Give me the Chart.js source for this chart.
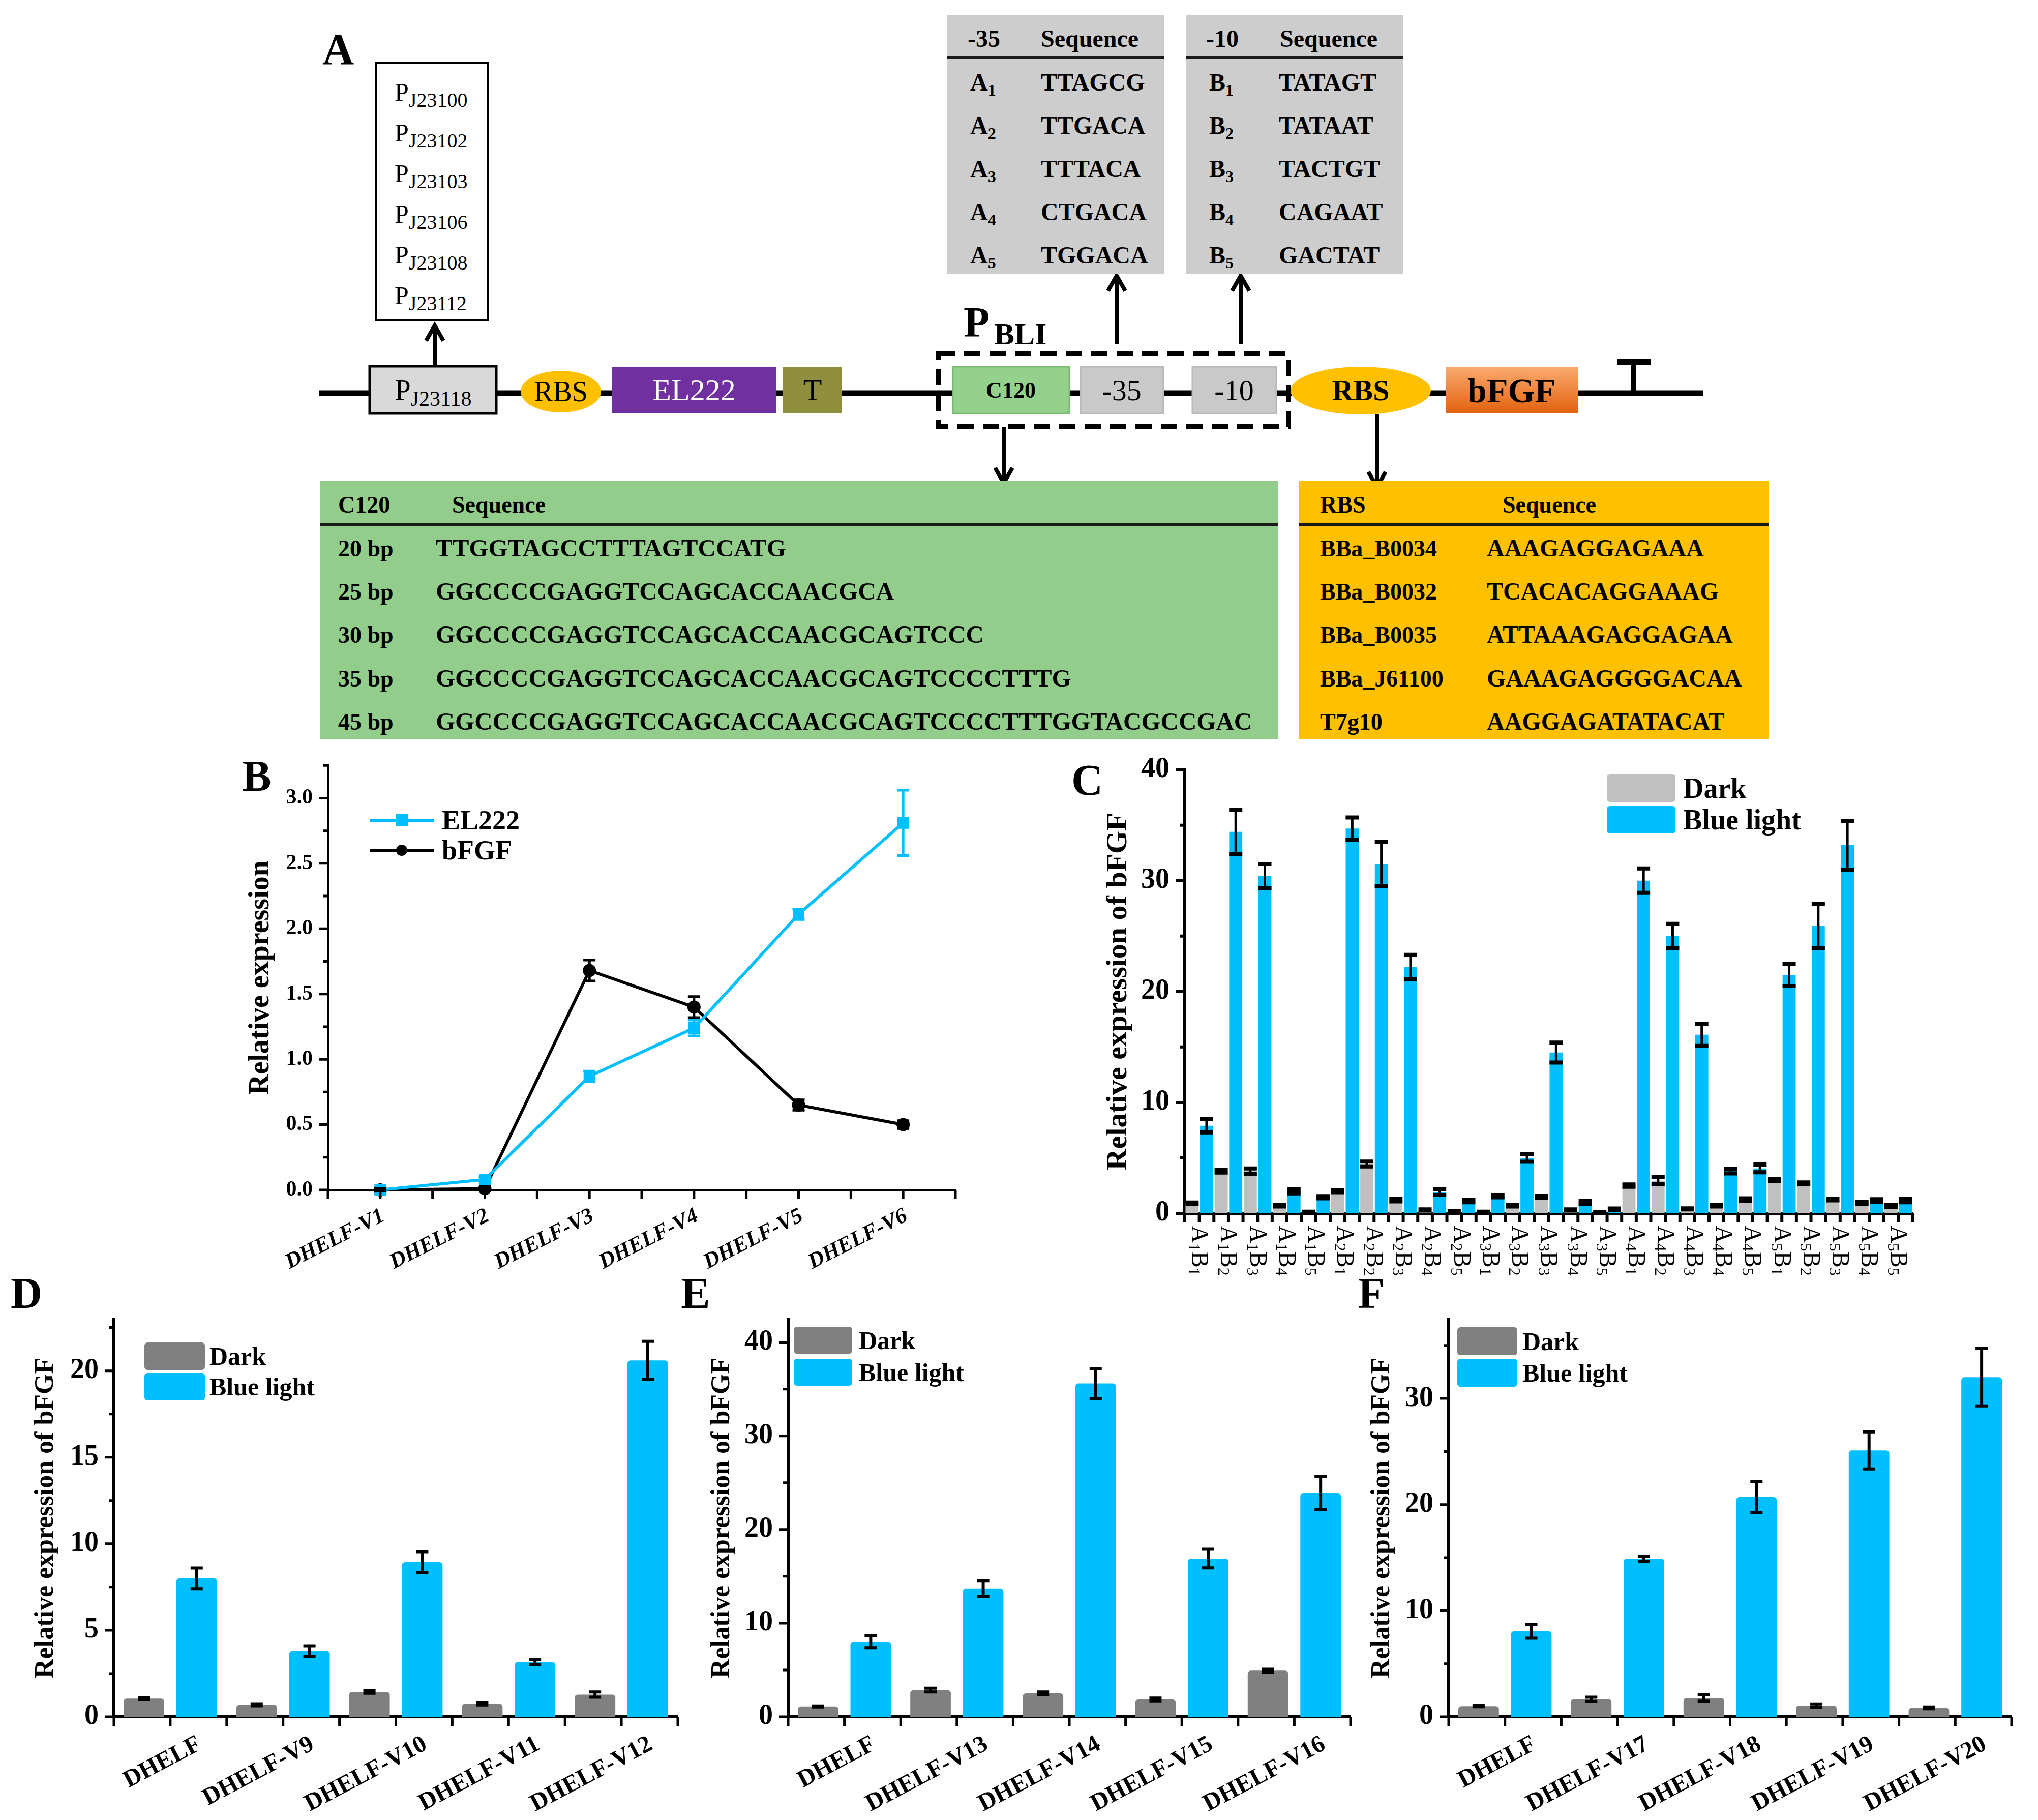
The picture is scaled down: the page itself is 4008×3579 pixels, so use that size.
<!DOCTYPE html>
<html>
<head>
<meta charset="utf-8">
<title>EL222 / bFGF expression</title>
<script src="https://cdn.jsdelivr.net/npm/chart.js@4.4.1/dist/chart.umd.min.js"></script>
<style>
  html, body { margin: 0; background: #fff; }
  #page { position: relative; width: 4008px; height: 3579px; overflow: hidden;
          font-family: 'Liberation Serif', 'Times New Roman', serif; color: #000; }
  #page canvas { position: absolute; }
  #diagram { position: absolute; left: 0; top: 0; }
  .panel { position: absolute; font-size: 86px; font-weight: bold; line-height: 1; transform: translate(-50%, -50%); }
  .swatch { position: absolute; border-radius: 6px; }
  .legtext { position: absolute; font-weight: bold; line-height: 1; transform: translateY(-50%); white-space: nowrap; }
</style>
</head>
<body>
<div id="page">
  <svg id="diagram" width="4008" height="1480" font-family="'Liberation Serif', 'Times New Roman', serif"></svg>
  <canvas id="chartB"></canvas>
  <canvas id="chartC"></canvas>
  <canvas id="chartD"></canvas>
  <canvas id="chartE"></canvas>
  <canvas id="chartF"></canvas>
</div>
<script>
const FONT = "'Liberation Serif', 'Times New Roman', serif";
const BLUE = '#00bfff';

// ---------- panel A (construct diagram) ----------
const promoters = ['J23100', 'J23102', 'J23103', 'J23106', 'J23108', 'J23112'];
const minus35Seqs = ['TTAGCG', 'TTGACA', 'TTTACA', 'CTGACA', 'TGGACA'];
const minus10Seqs = ['TATAGT', 'TATAAT', 'TACTGT', 'CAGAAT', 'GACTAT'];
const c120Names = ['20 bp', '25 bp', '30 bp', '35 bp', '45 bp'];
const c120Seqs = [
  'TTGGTAGCCTTTAGTCCATG',
  'GGCCCCGAGGTCCAGCACCAACGCA',
  'GGCCCCGAGGTCCAGCACCAACGCAGTCCC',
  'GGCCCCGAGGTCCAGCACCAACGCAGTCCCCTTTG',
  'GGCCCCGAGGTCCAGCACCAACGCAGTCCCCTTTGGTACGCCGAC'
];
const rbsNames = ['BBa_B0034', 'BBa_B0032', 'BBa_B0035', 'BBa_J61100', 'T7g10'];
const rbsSeqs = ['AAAGAGGAGAAA', 'TCACACAGGAAAG', 'ATTAAAGAGGAGAA', 'GAAAGAGGGGACAA', 'AAGGAGATATACAT'];

// ---------- panel B ----------
const strainsB = ['DHELF-V1', 'DHELF-V2', 'DHELF-V3', 'DHELF-V4', 'DHELF-V5', 'DHELF-V6'];
const el222Mean = [0.00, 0.08, 0.87, 1.24, 2.11, 2.81];
const el222Sd = [0.01, 0.02, 0.04, 0.06, 0.04, 0.25];
const bfgfMean = [0.00, 0.01, 1.68, 1.40, 0.65, 0.50];
const bfgfSd = [0.01, 0.01, 0.08, 0.08, 0.04, 0.03];
const yTicksB = [0, 0.5, 1.0, 1.5, 2.0, 2.5, 3.0];

// ---------- panel C ----------
const combosC = ['A1B1', 'A1B2', 'A1B3', 'A1B4', 'A1B5',
                 'A2B1', 'A2B2', 'A2B3', 'A2B4', 'A2B5',
                 'A3B1', 'A3B2', 'A3B3', 'A3B4', 'A3B5',
                 'A4B1', 'A4B2', 'A4B3', 'A4B4', 'A4B5',
                 'A5B1', 'A5B2', 'A5B3', 'A5B4', 'A5B5'];
const darkC = [0.9, 3.8, 3.8, 0.7, 0.1, 2.0, 4.45, 1.2, 0.3, 0.15, 0.1, 0.7, 1.5, 0.3, 0.08,
               2.5, 2.95, 0.4, 0.7, 1.25, 3.0, 2.7, 1.25, 0.93, 0.66];
const darkSdC = [0.08, 0.12, 0.25, 0.08, 0.05, 0.1, 0.22, 0.12, 0.05, 0.05, 0.05, 0.08, 0.1, 0.05, 0.04,
                 0.1, 0.3, 0.05, 0.08, 0.1, 0.08, 0.08, 0.08, 0.08, 0.08];
const blueC = [7.9, 34.4, 30.4, 2.0, 1.45, 34.7, 31.5, 22.2, 1.9, 1.1, 1.55, 5.0, 14.5, 1.0, 0.35,
               30.0, 25.0, 16.1, 3.8, 4.05, 21.5, 25.9, 33.2, 1.15, 1.15];
const blueSdC = [0.6, 2.0, 1.1, 0.2, 0.1, 1.0, 2.0, 1.1, 0.25, 0.1, 0.1, 0.35, 0.9, 0.15, 0.08,
                 1.1, 1.1, 1.0, 0.2, 0.35, 1.0, 2.0, 2.2, 0.12, 0.15];
const yTicksC = [0, 10, 20, 30, 40];

// ---------- panels D, E, F ----------
const strainsD = ['DHELF', 'DHELF-V9', 'DHELF-V10', 'DHELF-V11', 'DHELF-V12'];
const darkD = [1.05, 0.69, 1.44, 0.75, 1.28];
const darkSdD = [0.05, 0.06, 0.08, 0.07, 0.15];
const blueD = [8.0, 3.8, 8.94, 3.16, 20.6];
const blueSdD = [0.6, 0.3, 0.6, 0.15, 1.1];
const yTicksD = [0, 5, 10, 15, 20];

const strainsE = ['DHELF', 'DHELF-V13', 'DHELF-V14', 'DHELF-V15', 'DHELF-V16'];
const darkE = [1.1, 2.85, 2.5, 1.85, 4.93];
const darkSdE = [0.05, 0.2, 0.15, 0.15, 0.15];
const blueE = [8.03, 13.7, 35.6, 16.9, 23.9];
const blueSdE = [0.65, 0.85, 1.6, 1.0, 1.75];
const yTicksE = [0, 10, 20, 30, 40];

const strainsF = ['DHELF', 'DHELF-V17', 'DHELF-V18', 'DHELF-V19', 'DHELF-V20'];
const darkF = [1.0, 1.65, 1.77, 1.06, 0.84];
const darkSdF = [0.05, 0.2, 0.3, 0.15, 0.08];
const blueF = [8.06, 14.9, 20.7, 25.1, 32.0];
const blueSdF = [0.65, 0.25, 1.45, 1.75, 2.7];
const yTicksF = [0, 10, 20, 30];

// ================= diagram =================
function buildDiagram() {
  const p = [];
  const B = 'font-weight="bold"';
  const txt = (x, y, content, size, extra) =>
    p.push(`<text x="${x}" y="${y}" font-size="${size}" ${extra || ''}>${content}</text>`);
  const sub = (s, size, dy) => `<tspan font-size="${size}" dy="${dy}">${s}</tspan>`;
  const arrow = (x, y1, y2) => {
    const d = y2 < y1 ? 1 : -1;
    p.push(`<line x1="${x}" y1="${y1}" x2="${x}" y2="${y2 + d * 4}" stroke="#000" stroke-width="8"/>`);
    p.push(`<polyline points="${x - 17},${y2 + d * 30} ${x},${y2} ${x + 17},${y2 + d * 30}" fill="none" stroke="#000" stroke-width="8"/>`);
  };

  p.push(`<defs><linearGradient id="orange" x1="0" y1="0" x2="0" y2="1">
    <stop offset="0" stop-color="#fbab70"/><stop offset="1" stop-color="#e2620f"/></linearGradient></defs>`);

  // promoter library box
  p.push('<rect x="740" y="123" width="220" height="507" fill="#fff" stroke="#000" stroke-width="4"/>');
  promoters.forEach((name, i) => {
    txt(776, 198 + i * 80, 'P' + sub(name, 40, 12), 50);
  });
  arrow(855, 718, 640);

  // backbone
  p.push('<line x1="628" y1="773" x2="3350" y2="773" stroke="#000" stroke-width="11"/>');

  // EL222 cassette
  p.push('<rect x="727" y="720" width="249" height="93" fill="#d9d9d9" stroke="#000" stroke-width="5"/>');
  txt(852, 786, 'P' + sub('J23118', 42, 12), 56, 'text-anchor="middle"');
  p.push('<ellipse cx="1103" cy="770" rx="79" ry="41" fill="#ffc000"/>');
  txt(1103, 789, 'RBS', 56, 'text-anchor="middle"');
  p.push('<rect x="1203" y="721" width="324" height="91" fill="#7030a0"/>');
  txt(1365, 787, 'EL222', 60, 'text-anchor="middle" fill="#fff"');
  p.push('<rect x="1540" y="721" width="116" height="91" fill="#8f8f3d"/>');
  txt(1598, 787, 'T', 60, 'text-anchor="middle"');

  // P_BLI promoter
  p.push('<rect x="1846" y="696" width="688" height="143" fill="none" stroke="#000" stroke-width="10" stroke-dasharray="32 18"/>');
  p.push('<rect x="1874" y="721" width="229" height="92" fill="#93d18d" stroke="#78bd73" stroke-width="3"/>');
  txt(1988, 782, 'C120', 44, 'text-anchor="middle" ' + B);
  p.push('<rect x="2125" y="721" width="163" height="92" fill="#c9c9c9" stroke="#b8b8b8" stroke-width="3"/>');
  txt(2206, 787, '-35', 58, 'text-anchor="middle"');
  p.push('<rect x="2345" y="721" width="165" height="92" fill="#c9c9c9" stroke="#b8b8b8" stroke-width="3"/>');
  txt(2427, 787, '-10', 58, 'text-anchor="middle"');
  txt(1895, 662, 'P', 84, B);
  txt(1955, 677, 'BLI', 60, B);

  // bFGF cassette
  p.push('<ellipse cx="2676" cy="768" rx="138" ry="47" fill="#ffc000"/>');
  txt(2676, 787, 'RBS', 58, 'text-anchor="middle" ' + B);
  p.push('<rect x="2843" y="721" width="260" height="91" fill="url(#orange)"/>');
  txt(2973, 791, 'bFGF', 68, 'text-anchor="middle" ' + B);
  p.push('<line x1="3212" y1="712" x2="3212" y2="773" stroke="#000" stroke-width="10"/>');
  p.push('<line x1="3180" y1="712" x2="3246" y2="712" stroke="#000" stroke-width="12"/>');

  arrow(2196, 676, 542);
  arrow(2440, 676, 542);
  arrow(1974, 839, 950);
  arrow(2708, 815, 958);

  // -35 and -10 tables
  const rowsTop = [162, 247, 332, 417, 502];
  p.push('<rect x="1863" y="29" width="427" height="509" fill="#cdcdcd"/>');
  p.push('<rect x="1863" y="111" width="427" height="5" fill="#1a1a1a"/>');
  p.push('<rect x="2333" y="29" width="426" height="509" fill="#cdcdcd"/>');
  p.push('<rect x="2333" y="111" width="426" height="5" fill="#1a1a1a"/>');
  txt(1903, 92, '-35', 48, B);
  txt(2047, 92, 'Sequence', 48, B);
  txt(2372, 92, '-10', 48, B);
  txt(2517, 92, 'Sequence', 48, B);
  minus35Seqs.forEach((sq, i) => {
    txt(1908, rowsTop[i] + 16, 'A' + sub(String(i + 1), 32, 10), 48, B);
    txt(2047, rowsTop[i] + 16, sq, 48, B);
  });
  minus10Seqs.forEach((sq, i) => {
    txt(2378, rowsTop[i] + 16, 'B' + sub(String(i + 1), 32, 10), 48, B);
    txt(2515, rowsTop[i] + 16, sq, 48, B);
  });

  // C120 and RBS tables
  const rowsBot = [1078, 1163, 1248, 1334, 1419];
  p.push('<rect x="629" y="946" width="1884" height="507" fill="#92cd8c"/>');
  p.push('<rect x="629" y="1029" width="1884" height="5" fill="#1a1a1a"/>');
  p.push('<rect x="2555" y="946" width="924" height="508" fill="#ffc000"/>');
  p.push('<rect x="2555" y="1029" width="924" height="5" fill="#1a1a1a"/>');
  txt(665, 1008, 'C120', 46, B);
  txt(889, 1008, 'Sequence', 46, B);
  txt(2596, 1008, 'RBS', 46, B);
  txt(2955, 1008, 'Sequence', 46, B);
  c120Seqs.forEach((sq, i) => {
    txt(665, rowsBot[i] + 16, c120Names[i], 46, B);
    txt(857, rowsBot[i] + 16, sq, 49, B);
  });
  rbsSeqs.forEach((sq, i) => {
    txt(2596, rowsBot[i] + 16, rbsNames[i], 46, B);
    txt(2924, rowsBot[i] + 16, sq, 48, B);
  });

  document.getElementById('diagram').innerHTML = p.join('\n');
}

// ================= html bits =================
const page = document.getElementById('page');
function addDiv(cls, css, text) {
  const d = document.createElement('div');
  d.className = cls;
  Object.assign(d.style, css);
  if (text) d.textContent = text;
  page.appendChild(d);
  return d;
}
function panelLetter(ch, x, y) {
  addDiv('panel', { left: x + 'px', top: y + 'px' }, ch);
}
function barLegend(x, top, w, h, gap, textX, size, darkColor) {
  const items = [['Dark', darkColor], ['Blue light', BLUE]];
  items.forEach(([name, col], i) => {
    const t = top + i * (h + gap);
    addDiv('swatch', { left: x + 'px', top: t + 'px', width: w + 'px', height: h + 'px', background: col });
    addDiv('legtext', { left: textX + 'px', top: (t + h / 2) + 'px', fontSize: size + 'px' }, name);
  });
}
function lineLegend() {
  const rows = [['EL222', BLUE, 'rect', 1613], ['bFGF', '#000', 'circle', 1672]];
  rows.forEach(([name, col, shape, y]) => {
    addDiv('', { position: 'absolute', left: '727px', top: (y - 3) + 'px', width: '127px', height: '6px', background: col });
    const s = shape === 'rect' ? 24 : 22;
    addDiv('', { position: 'absolute', left: (790 - s / 2) + 'px', top: (y - s / 2) + 'px', width: s + 'px', height: s + 'px',
                 background: col, borderRadius: shape === 'rect' ? '0' : '50%' });
    addDiv('legtext', { left: '869px', top: y + 'px', fontSize: '54px' }, name);
  });
}

// ================= chart plugins =================
// Origin-style outward ticks: major + minor on y, centres + boundaries on x
const originAxes = {
  id: 'originAxes',
  afterDraw(chart, args, opts) {
    const { ctx, chartArea: a, scales: { x, y } } = chart;
    ctx.save();
    ctx.strokeStyle = '#000';
    ctx.lineWidth = opts.width;
    ctx.beginPath();
    const t = y.ticks.map(k => k.value);
    const step = t[1] - t[0];
    t.forEach(v => {
      const py = y.getPixelForValue(v);
      ctx.moveTo(a.left, py); ctx.lineTo(a.left - opts.tickLen, py);
      const m = v + step / 2;
      if (m <= y.max + 1e-9) {
        const pm = y.getPixelForValue(m);
        ctx.moveTo(a.left, pm); ctx.lineTo(a.left - opts.minorLen, pm);
      }
    });
    const n = chart.data.labels.length;
    const half = (x.getPixelForValue(1) - x.getPixelForValue(0)) / 2;
    for (let i = 0; i < n; i++) {
      const c = x.getPixelForValue(i);
      [c - half, c, c + half].forEach(px => {
        ctx.moveTo(px, a.bottom); ctx.lineTo(px, a.bottom + opts.tickLen);
      });
    }
    ctx.stroke();
    ctx.restore();
  }
};

// error bars from dataset.errors
const errorBars = {
  id: 'errorBars',
  afterDatasetsDraw(chart) {
    const { ctx, scales: { y } } = chart;
    chart.data.datasets.forEach((ds, i) => {
      if (!ds.errors) return;
      const meta = chart.getDatasetMeta(i);
      ctx.save();
      ctx.strokeStyle = ds.errColor || '#000';
      meta.data.forEach((el, j) => {
        const v = ds.data[j], e = ds.errors[j];
        const top = y.getPixelForValue(v + e), bot = y.getPixelForValue(v - e);
        ctx.lineWidth = ds.errLine;
        ctx.beginPath(); ctx.moveTo(el.x, top); ctx.lineTo(el.x, bot); ctx.stroke();
        ctx.lineWidth = ds.capLine;
        ctx.beginPath();
        ctx.moveTo(el.x - ds.capHalf, top); ctx.lineTo(el.x + ds.capHalf, top);
        ctx.moveTo(el.x - ds.capHalf, bot); ctx.lineTo(el.x + ds.capHalf, bot);
        ctx.stroke();
      });
      ctx.restore();
    });
  }
};

// vertical A1B1-style labels, reading top to bottom, with subscripts
const comboLabels = {
  id: 'comboLabels',
  afterDraw(chart, args, opts) {
    if (!opts.on) return;
    const { ctx, chartArea: a, scales: { x } } = chart;
    ctx.save();
    ctx.fillStyle = '#000';
    ctx.textBaseline = 'middle';
    ctx.textAlign = 'left';
    chart.data.labels.forEach((lab, i) => {
      ctx.save();
      ctx.translate(x.getPixelForValue(i) - opts.shiftX, a.bottom + opts.offset);
      ctx.rotate(Math.PI / 2);
      let cx = 0;
      for (const ch of lab) {
        const isSub = /\d/.test(ch);
        ctx.font = `${isSub ? opts.subSize : opts.size}px ${FONT}`;
        ctx.fillText(ch, cx, isSub ? opts.subShift : 0);
        cx += ctx.measureText(ch).width;
      }
      ctx.restore();
    });
    ctx.restore();
  }
};

// ================= chart helpers =================
function place(id, g) {
  const c = document.getElementById(id);
  c.width = g.w; c.height = g.h;
  c.style.left = g.x + 'px'; c.style.top = g.y + 'px';
  c.style.width = g.w + 'px'; c.style.height = g.h + 'px';
  return c;
}

function axesOptions(g, area, s) {
  const yW = area.l - g.x, xH = g.y + g.h - area.b;
  return {
    responsive: false,
    animation: false,
    devicePixelRatio: 1,
    layout: { padding: { top: area.t - g.y, right: g.x + g.w - area.r, left: 0, bottom: 0 } },
    plugins: {
      legend: { display: false },
      tooltip: { enabled: false },
      originAxes: { width: s.tickWidth, tickLen: 18, minorLen: 10 },
      comboLabels: s.combo || { on: false }
    },
    scales: {
      x: {
        offset: true,
        grid: { display: false, drawTicks: false },
        border: { display: true, color: '#000', width: s.axisWidth },
        ticks: {
          display: !s.combo,
          autoSkip: false, minRotation: s.xRot, maxRotation: s.xRot,
          labelOffset: s.labelOffset, padding: s.xPad,
          color: '#000',
          font: { family: FONT, size: s.xFont, weight: 'bold', style: s.xStyle || 'normal' }
        },
        afterFit: sc => { sc.height = xH; }
      },
      y: {
        min: 0, max: s.yMax,
        grid: { display: false, drawTicks: false },
        border: { display: true, color: '#000', width: s.axisWidth },
        afterBuildTicks: sc => { sc.ticks = s.yTicks.map(v => ({ value: v })); },
        ticks: {
          padding: 30, color: '#000',
          font: { family: FONT, size: s.yFont, weight: 'bold' },
          callback: s.yFmt || (v => v)
        },
        title: {
          display: true, text: s.title, color: '#000',
          padding: { top: s.titlePad, bottom: 0 },
          font: { family: FONT, size: s.titleFont, weight: 'bold' }
        },
        afterFit: sc => { sc.width = yW; }
      }
    }
  };
}

function barChart(id, g, area, labels, dark, darkSd, blue, blueSd, s) {
  const bar = s.bar;
  return new Chart(place(id, g), {
    type: 'bar',
    data: {
      labels,
      datasets: [
        { label: 'Dark', data: dark, errors: darkSd, backgroundColor: s.darkColor,
          borderRadius: bar.radius, borderSkipped: 'bottom',
          categoryPercentage: bar.cat, barPercentage: bar.bar,
          errLine: bar.errLine, capLine: bar.capLine, capHalf: bar.capHalf },
        { label: 'Blue light', data: blue, errors: blueSd, backgroundColor: BLUE,
          borderRadius: bar.radius, borderSkipped: 'bottom',
          categoryPercentage: bar.cat, barPercentage: bar.bar,
          errLine: bar.errLine, capLine: bar.capLine, capHalf: bar.capHalf }
      ]
    },
    options: axesOptions(g, area, s),
    plugins: [errorBars, originAxes, comboLabels]
  });
}

// ================= build =================
buildDiagram();

// panel B: line chart
(function () {
  const g = { x: 430, y: 1450, w: 1480, h: 1120 };
  const area = { l: 645, t: 1496, r: 1879, b: 2340 };
  const s = { yMax: 3.25, yTicks: yTicksB, yFmt: v => v.toFixed(1), yFont: 42,
              xFont: 43, xStyle: 'italic', xRot: 27, labelOffset: 6, xPad: 26,
              title: 'Relative expression', titleFont: 56, titlePad: 50,
              axisWidth: 5, tickWidth: 5 };
  new Chart(place('chartB', g), {
    type: 'line',
    data: {
      labels: strainsB,
      datasets: [
        { label: 'EL222', data: el222Mean, errors: el222Sd, errColor: BLUE,
          borderColor: BLUE, backgroundColor: BLUE, borderWidth: 6,
          pointStyle: 'rect', pointRadius: 12, tension: 0, clip: false,
          errLine: 5, capLine: 5, capHalf: 12 },
        { label: 'bFGF', data: bfgfMean, errors: bfgfSd, errColor: '#000',
          borderColor: '#000', backgroundColor: '#000', borderWidth: 6,
          pointStyle: 'circle', pointRadius: 10, tension: 0, clip: false,
          errLine: 5, capLine: 5, capHalf: 12 }
      ]
    },
    options: axesOptions(g, area, s),
    plugins: [errorBars, originAxes, comboLabels]
  });
})();

// panel C: 25 promoter combinations
barChart('chartC', { x: 2100, y: 1450, w: 1700, h: 1130 }, { l: 2330, t: 1503, r: 3762, b: 2386 },
  combosC, darkC, darkSdC, blueC, blueSdC,
  { yMax: 40, yTicks: yTicksC, yFont: 56, xFont: 40, xRot: 30, labelOffset: 0, xPad: 20,
    title: 'Relative expression of bFGF', titleFont: 58, titlePad: 65,
    axisWidth: 6, tickWidth: 6, darkColor: '#c0c0c0',
    combo: { on: true, offset: 24, size: 48, subSize: 32, subShift: 10, shiftX: 2 },
    bar: { cat: 1.0, bar: 0.9, radius: 0, errLine: 5, capLine: 8, capHalf: 13 } });

const dBar = { cat: 0.936, bar: 0.77, radius: 6, errLine: 6, capLine: 6, capHalf: 12 };
barChart('chartD', { x: 0, y: 2530, w: 1360, h: 1040 }, { l: 224, t: 2572, r: 1333, b: 3376 },
  strainsD, darkD, darkSdD, blueD, blueSdD,
  { yMax: 23, yTicks: yTicksD, yFont: 56, xFont: 48, xRot: 28, labelOffset: 58, xPad: 26,
    title: 'Relative expression of bFGF', titleFont: 52, titlePad: 59,
    axisWidth: 6, tickWidth: 5, darkColor: '#808080', bar: dBar });

barChart('chartE', { x: 1340, y: 2530, w: 1350, h: 1040 }, { l: 1550, t: 2572, r: 2656, b: 3376 },
  strainsE, darkE, darkSdE, blueE, blueSdE,
  { yMax: 42.5, yTicks: yTicksE, yFont: 56, xFont: 48, xRot: 28, labelOffset: 58, xPad: 26,
    title: 'Relative expression of bFGF', titleFont: 52, titlePad: 49,
    axisWidth: 6, tickWidth: 5, darkColor: '#808080', bar: dBar });

barChart('chartF', { x: 2650, y: 2530, w: 1350, h: 1040 }, { l: 2849, t: 2572, r: 3956, b: 3376 },
  strainsF, darkF, darkSdF, blueF, blueSdF,
  { yMax: 37.5, yTicks: yTicksF, yFont: 56, xFont: 48, xRot: 28, labelOffset: 58, xPad: 26,
    title: 'Relative expression of bFGF', titleFont: 52, titlePad: 37,
    axisWidth: 6, tickWidth: 5, darkColor: '#808080', bar: dBar });

// legends and panel letters
lineLegend();
barLegend(3160, 1523, 135, 54, 8, 3310, 56, '#c0c0c0');
barLegend(284, 2640, 119, 54, 6, 412, 50, '#808080');
barLegend(1561, 2609, 115, 53, 10, 1689, 50, '#808080');
barLegend(2866, 2610, 118, 55, 7, 2994, 50, '#808080');

panelLetter('A', 665, 97);
panelLetter('B', 505, 1526);
panelLetter('C', 2138, 1534);
panelLetter('D', 52, 2543);
panelLetter('E', 1368, 2543);
panelLetter('F', 2697, 2543);
</script>
</body>
</html>
